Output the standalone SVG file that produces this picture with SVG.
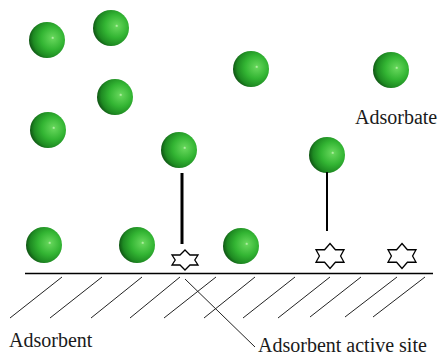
<svg xmlns="http://www.w3.org/2000/svg" width="442" height="357" viewBox="0 0 442 357">
  <style>
    .bond { stroke: #000; stroke-linecap: butt; }
    .site { fill: #fff; stroke: #000; stroke-width: 1.3; stroke-linejoin: miter; }
    .surface { stroke: #000; stroke-width: 1.5; }
    .hatch { stroke: #222; stroke-width: 1; }
    .label { font-family: "Liberation Serif", "Times New Roman", serif; font-size: 20px; fill: #1a1a1a; }
  </style>
  <defs>
    <radialGradient id="ball" cx="0.64" cy="0.46" r="0.76" fx="0.66" fy="0.44">
      <stop offset="0" stop-color="#c8f5b8"/>
      <stop offset="0.06" stop-color="#62d458"/>
      <stop offset="0.42" stop-color="#33b533"/>
      <stop offset="0.7" stop-color="#1e8a22"/>
      <stop offset="0.88" stop-color="#0d4a11"/>
      <stop offset="1" stop-color="#051f07"/>
    </radialGradient>
    <symbol id="sphere" overflow="visible">
      <circle cx="0" cy="0" r="18" fill="url(#ball)"/>
    </symbol>
    <!-- six-pointed active site, large and small variants -->
    <polygon id="star" points="0,-12.5 5.4,-6.25 14,-6.25 10.6,0 14,6.25 5.4,6.25 0,12.5 -5.4,6.25 -14,6.25 -10.6,0 -14,-6.25 -5.4,-6.25"/>
    <polygon id="starSmall" points="0,-10 5,-5 13,-5 9.8,0 13,5 5,5 0,10 -5,5 -13,5 -9.8,0 -13,-5 -5,-5"/>
  </defs>

  <!-- adsorbent surface and hatching -->
  <g id="adsorbent">
    <line class="surface" x1="25" y1="273.5" x2="433" y2="273.5"/>
    <g class="hatch">
      <line x1="62" y1="277" x2="10" y2="318"/>
      <line x1="102" y1="277" x2="50" y2="318"/>
      <line x1="142" y1="277" x2="91" y2="318"/>
      <line x1="180" y1="277" x2="130" y2="318"/>
      <line x1="216" y1="277" x2="164" y2="318"/>
      <line x1="255" y1="277" x2="204" y2="318"/>
      <line x1="295" y1="277" x2="243" y2="318"/>
      <line x1="330" y1="277" x2="278" y2="318"/>
      <line x1="361" y1="277" x2="310" y2="317"/>
      <line x1="397" y1="277" x2="345" y2="317"/>
      <line x1="425" y1="277" x2="373" y2="317"/>
    </g>
  </g>

  <!-- free adsorbate molecules -->
  <g id="m1"><use href="#sphere" x="47" y="40"/></g>
  <g id="m2"><use href="#sphere" x="111" y="28"/></g>
  <g id="m3"><use href="#sphere" x="251" y="69"/></g>
  <g id="m4"><use href="#sphere" x="391" y="70"/></g>
  <g id="m5"><use href="#sphere" x="115" y="97"/></g>
  <g id="m6"><use href="#sphere" x="48" y="130"/></g>
  <g id="m7"><use href="#sphere" x="179" y="150"/></g>
  <g id="m8"><use href="#sphere" x="327" y="155"/></g>
  <g id="m9"><use href="#sphere" x="44" y="245"/></g>
  <g id="m10"><use href="#sphere" x="137" y="245"/></g>
  <g id="m11"><use href="#sphere" x="241" y="246"/></g>

  <!-- active sites -->
  <g id="site1"><use href="#starSmall" class="site" x="185" y="260"/></g>
  <g id="site2"><use href="#star" class="site" x="330" y="256"/></g>
  <g id="site3"><use href="#star" class="site" x="402" y="256"/></g>

  <!-- connectors -->
  <g id="connectors">
    <line class="bond" x1="182" y1="173" x2="182" y2="244" stroke-width="3"/>
    <line class="bond" x1="327" y1="172" x2="327" y2="231" stroke-width="2"/>
    <line x1="185" y1="279" x2="255" y2="347" stroke="#222" stroke-width="1"/>
  </g>

  <!-- labels -->
  <g id="labels">
    <text class="label" x="355" y="124">Adsorbate</text>
    <text class="label" x="9" y="347">Adsorbent</text>
    <text class="label" x="258" y="352">Adsorbent active site</text>
  </g>
</svg>
